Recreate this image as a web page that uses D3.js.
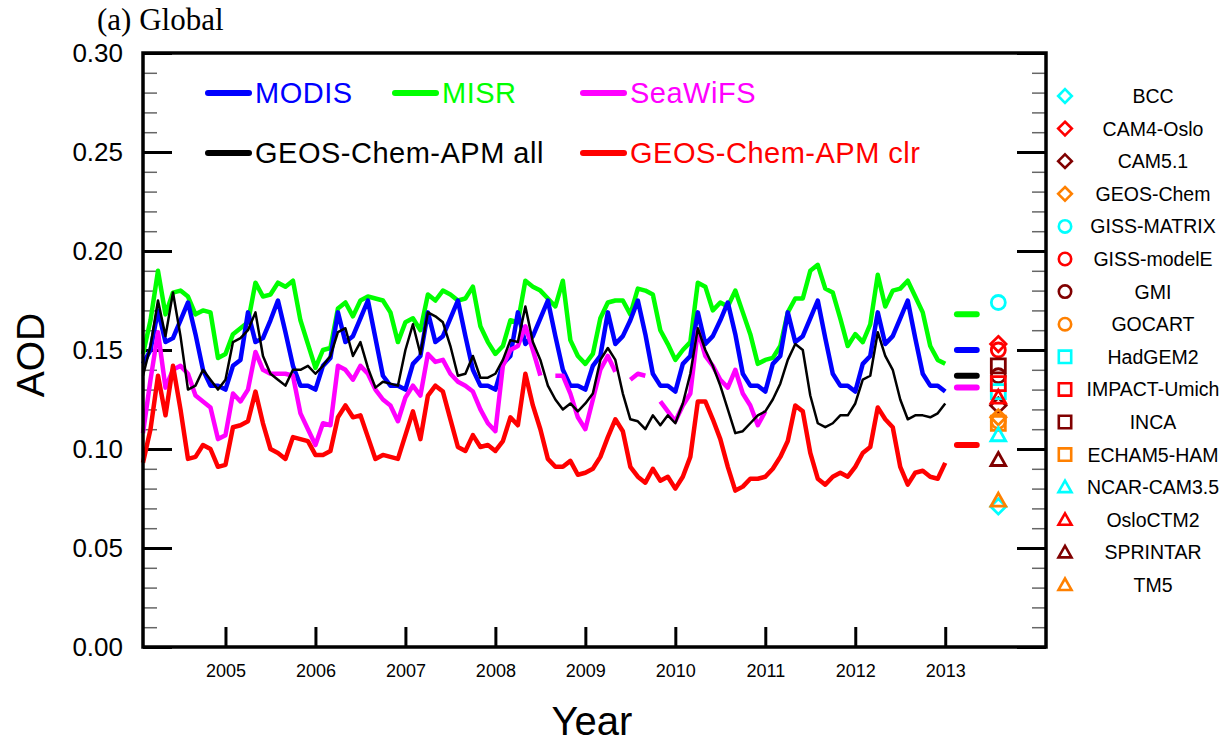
<!DOCTYPE html>
<html>
<head>
<meta charset="utf-8">
<script src="https://cdn.jsdelivr.net/npm/d3@7"></script>
<style>
  body { margin: 0; background: #fff; }
  svg { display: block; font-family: "Liberation Sans", Arial, Helvetica, sans-serif; }
</style>
</head>
<body>
<div id="chart"></div>
<script>
// monthly global AOD, Jan 2004 .. Dec 2012 (null = no data)
const misr = [
  0.148, 0.165, 0.190, 0.168, 0.179, 0.180, 0.177, 0.168, 0.170, 0.169, 0.146, 0.148,
  0.158, 0.161, 0.164, 0.184, 0.177, 0.178, 0.184, 0.182, 0.185, 0.165, 0.153, 0.141,
  0.150, 0.151, 0.171, 0.174, 0.167, 0.175, 0.177, 0.176, 0.175, 0.169, 0.154, 0.164,
  0.166, 0.160, 0.178, 0.175, 0.180, 0.178, 0.175, 0.176, 0.182, 0.162, 0.154, 0.148,
  0.152, 0.165, 0.164, 0.185, 0.182, 0.180, 0.176, 0.172, 0.185, 0.155, 0.147, 0.143,
  0.148, 0.166, 0.174, 0.175, 0.175, 0.168, 0.181, 0.180, 0.178, 0.160, 0.153, 0.145,
  0.150, 0.154, 0.184, 0.182, 0.170, 0.174, 0.172, 0.180, 0.169, 0.158, 0.143, 0.145,
  0.146, 0.152, 0.169, 0.176, 0.176, 0.190, 0.193, 0.181, 0.179, 0.166, 0.152, 0.158,
  0.154, 0.163, 0.188, 0.172, 0.180, 0.181, 0.185, 0.177, 0.169, 0.152, 0.145, 0.143
];
const modis = [
  0.143, 0.150, 0.170, 0.154, 0.156, 0.165, 0.174, 0.158, 0.140, 0.132, 0.132, 0.130,
  0.142, 0.145, 0.169, 0.154, 0.156, 0.165, 0.175, 0.159, 0.142, 0.132, 0.132, 0.130,
  0.142, 0.146, 0.169, 0.154, 0.157, 0.166, 0.175, 0.156, 0.137, 0.132, 0.132, 0.130,
  0.143, 0.147, 0.169, 0.154, 0.157, 0.166, 0.175, 0.157, 0.140, 0.132, 0.132, 0.130,
  0.143, 0.147, 0.169, 0.153, 0.157, 0.166, 0.175, 0.157, 0.140, 0.132, 0.132, 0.130,
  0.142, 0.147, 0.169, 0.153, 0.157, 0.165, 0.175, 0.158, 0.138, 0.132, 0.132, 0.129,
  0.143, 0.147, 0.169, 0.153, 0.157, 0.165, 0.174, 0.158, 0.138, 0.132, 0.132, 0.129,
  0.143, 0.147, 0.169, 0.154, 0.157, 0.166, 0.175, 0.156, 0.138, 0.132, 0.132, 0.129,
  0.143, 0.147, 0.169, 0.153, 0.157, 0.166, 0.175, 0.156, 0.138, 0.132, 0.132, 0.129
];
const seawifs = [
  0.108, 0.135, 0.159, 0.131, 0.140, 0.142, 0.138, 0.127, 0.124, 0.121, 0.105, 0.107,
  0.128, 0.124, 0.130, 0.149, 0.140, 0.138, 0.138, 0.138, 0.137, 0.118, 0.110, 0.102,
  0.113, 0.112, 0.142, 0.140, 0.135, 0.142, 0.138, 0.130, 0.125, 0.122, 0.114, 0.126,
  0.132, 0.127, 0.148, 0.144, 0.145, 0.138, 0.134, 0.132, 0.129, 0.120, 0.113, 0.109,
  0.142, 0.150, 0.152, 0.162, 0.150, 0.137, null,  0.137, 0.137, 0.128, 0.116, 0.110,
  0.125, 0.140, 0.147, 0.139, null,  0.135, 0.138, 0.137, null,  0.124, 0.119, 0.114,
  0.122, 0.128, 0.160, 0.147, 0.142, 0.135, 0.131, 0.140, 0.128, 0.122, 0.112, 0.119,
  null, null, null, null, null, null, null, null, null, null, null, null,
  null, null, null, null, null, null, null, null, null, null, null, null
];
const apmAll = [
  0.137, 0.152, 0.175, 0.157, 0.179, 0.157, 0.130, 0.132, 0.140, 0.135, 0.130, 0.135,
  0.154, 0.156, 0.160, 0.169, 0.147, 0.138, 0.135, 0.132, 0.140, 0.140, 0.142, 0.138,
  0.142, 0.147, 0.159, 0.161, 0.147, 0.154, 0.141, 0.131, 0.134, 0.133, 0.132, 0.150,
  0.163, 0.148, 0.169, 0.167, 0.164, 0.152, 0.137, 0.138, 0.147, 0.136, 0.136, 0.138,
  0.145, 0.155, 0.154, 0.172, 0.154, 0.145, 0.132, 0.125, 0.120, 0.123, 0.119, 0.123,
  0.128, 0.145, 0.151, 0.145, 0.128, 0.115, 0.114, 0.110, 0.117, 0.112, 0.117, 0.113,
  0.123, 0.138, 0.161, 0.150, 0.142, 0.132, 0.120, 0.108, 0.109, 0.113, 0.117, 0.119,
  0.125, 0.133, 0.145, 0.153, 0.150, 0.127, 0.113, 0.111, 0.113, 0.117, 0.117, 0.123,
  0.135, 0.137, 0.159, 0.147, 0.140, 0.125, 0.115, 0.117, 0.117, 0.116, 0.118, 0.123
];
const apmClr = [
  0.093, 0.110, 0.137, 0.117, 0.142, 0.120, 0.095, 0.096, 0.102, 0.100, 0.091, 0.092,
  0.111, 0.112, 0.114, 0.129, 0.113, 0.100, 0.098, 0.095, 0.106, 0.105, 0.104, 0.097,
  0.097, 0.099, 0.116, 0.122, 0.116, 0.117, 0.106, 0.095, 0.097, 0.096, 0.095, 0.107,
  0.119, 0.105, 0.127, 0.132, 0.129, 0.115, 0.101, 0.099, 0.107, 0.101, 0.102, 0.099,
  0.104, 0.116, 0.112, 0.138, 0.122, 0.110, 0.095, 0.091, 0.091, 0.094, 0.087, 0.088,
  0.090, 0.096, 0.106, 0.115, 0.109, 0.091, 0.086, 0.083, 0.090, 0.084, 0.086, 0.080,
  0.086, 0.096, 0.124, 0.124, 0.115, 0.105, 0.091, 0.079, 0.081, 0.085, 0.085, 0.086,
  0.090, 0.096, 0.104, 0.122, 0.119, 0.098, 0.085, 0.082, 0.086, 0.088, 0.086, 0.091,
  0.098, 0.101, 0.121, 0.115, 0.111, 0.091, 0.082, 0.088, 0.089, 0.086, 0.085, 0.093
];

const seriesNames = ["MODIS", "MISR", "SeaWiFS", "GEOS-Chem-APM all", "GEOS-Chem-APM clr"];
const seriesColors = ["#0000ff", "#00ff00", "#ff00ff", "#000000", "#ff0000"];
// period means shown as short bars right of the series
const seriesMeans = [0.150, 0.168, 0.131, 0.137, 0.102];

// AeroCom models
const modelNames = ["BCC", "CAM4-Oslo", "CAM5.1", "GEOS-Chem", "GISS-MATRIX", "GISS-modelE",
  "GMI", "GOCART", "HadGEM2", "IMPACT-Umich", "INCA", "ECHAM5-HAM", "NCAR-CAM3.5",
  "OsloCTM2", "SPRINTAR", "TM5"];
const modelAod = [0.071, 0.153, 0.122, 0.116, 0.174, 0.150, 0.137, 0.114, 0.129, 0.133,
  0.142, 0.113, 0.107, 0.126, 0.0945, 0.074];
const modelShapes = ["diamond", "diamond", "diamond", "diamond", "circle", "circle", "circle", "circle",
  "square", "square", "square", "square", "triangle", "triangle", "triangle", "triangle"];
const modelColors = ["#00ffff", "#ff0000", "#800000", "#ff8000"];

const yearTicks = [2005, 2006, 2007, 2008, 2009, 2010, 2011, 2012, 2013];
const aodTicks = [0, 0.05, 0.10, 0.15, 0.20, 0.25, 0.30];

const W = 1227, H = 742;
const L = 143, R = 1046, T = 53, B = 647;

const svg = d3.select("#chart").append("svg")
  .attr("width", W).attr("height", H);

const x = d3.scaleLinear().domain([2004 + 1 / 12, 2014.12]).range([L, R]);
const y = d3.scaleLinear().domain([0, 0.30]).range([B, T]);
const monthX = i => 2004 + (i + 1) / 12;

const minorTicks = d3.range(0, 31).map(d => d / 100).filter(d => Math.round(d * 100) % 5 !== 0);

// minor y ticks, both sides
svg.append("g").attr("transform", `translate(${L},0)`)
  .call(d3.axisLeft(y).tickValues(minorTicks).tickSize(-14).tickFormat(""))
  .call(g => g.select(".domain").remove())
  .call(g => g.selectAll("line").attr("stroke", "#666").attr("stroke-width", 1.5));
svg.append("g").attr("transform", `translate(${R},0)`)
  .call(d3.axisRight(y).tickValues(minorTicks).tickSize(-14).tickFormat(""))
  .call(g => g.select(".domain").remove())
  .call(g => g.selectAll("line").attr("stroke", "#666").attr("stroke-width", 1.5));

// major y ticks
svg.append("g").attr("transform", `translate(${L},0)`)
  .call(d3.axisLeft(y).tickValues(aodTicks).tickSize(-29).tickPadding(20).tickFormat(d3.format(".2f")))
  .call(g => g.select(".domain").remove())
  .call(g => g.selectAll("line").attr("stroke", "#000").attr("stroke-width", 3))
  .call(g => g.selectAll("text").attr("font-size", 26).attr("fill", "#000")
    .attr("font-family", "Liberation Sans, Arial, sans-serif"));
svg.append("g").attr("transform", `translate(${R},0)`)
  .call(d3.axisRight(y).tickValues(aodTicks).tickSize(-29).tickFormat(""))
  .call(g => g.select(".domain").remove())
  .call(g => g.selectAll("line").attr("stroke", "#000").attr("stroke-width", 3));

// x ticks
svg.append("g").attr("transform", `translate(0,${B})`)
  .call(d3.axisBottom(x).tickValues(yearTicks).tickSize(-20).tickPadding(17).tickFormat(d3.format("d")))
  .call(g => g.select(".domain").remove())
  .call(g => g.selectAll("line").attr("stroke", "#000").attr("stroke-width", 3))
  .call(g => g.selectAll("text").attr("font-size", 18).attr("fill", "#000")
    .attr("font-family", "Liberation Sans, Arial, sans-serif"));

// series
const line = d3.line()
  .defined(d => d != null)
  .x((d, i) => x(monthX(i)))
  .y(d => y(d));

const seriesData = [modis, misr, seawifs, apmAll, apmClr];
const drawOrder = [1, 0, 2, 3, 4];
drawOrder.forEach(k => {
  svg.append("path")
    .datum(seriesData[k])
    .attr("d", line)
    .attr("fill", "none")
    .attr("stroke", seriesColors[k])
    .attr("stroke-width", k === 3 ? 2.5 : 4.5)
    .attr("stroke-linejoin", "round");
});

// mean bars
svg.append("g").selectAll("line")
  .data(seriesMeans)
  .join("line")
  .attr("x1", x(2013.13)).attr("x2", x(2013.35))
  .attr("y1", d => y(d)).attr("y2", d => y(d))
  .attr("stroke", (d, i) => seriesColors[i])
  .attr("stroke-width", 6)
  .attr("stroke-linecap", "round");

function markerPath(shape, r) {
  if (shape === "circle") return d3.symbol(d3.symbolCircle, Math.PI * r * r)();
  if (shape === "square") return `M${-r},${-r}H${r}V${r}H${-r}Z`;
  if (shape === "diamond") return `M0,${-r * 1.1}L${r * 1.1},0L0,${r * 1.1}L${-r * 1.1},0Z`;
  return `M0,${-r * 1.05}L${r * 1.05},${r * 0.8}L${-r * 1.05},${r * 0.8}Z`;
}

// model markers
svg.append("g").selectAll("path")
  .data(modelAod)
  .join("path")
  .attr("transform", d => `translate(${x(2013.59)},${y(d)})`)
  .attr("d", (d, i) => markerPath(modelShapes[i], 7))
  .attr("fill", "none")
  .attr("stroke", (d, i) => modelColors[i % 4])
  .attr("stroke-width", 2.8);

// frame
svg.append("rect")
  .attr("x", L).attr("y", T).attr("width", R - L).attr("height", B - T)
  .attr("fill", "none").attr("stroke", "#000").attr("stroke-width", 3.5);

// top legend
const legendPos = [[208, 93], [395, 93], [583, 93], [208, 153], [583, 153]];
seriesNames.forEach((name, i) => {
  const [lx, ly] = legendPos[i];
  svg.append("line")
    .attr("x1", lx).attr("x2", lx + 41).attr("y1", ly).attr("y2", ly)
    .attr("stroke", seriesColors[i]).attr("stroke-width", 6).attr("stroke-linecap", "round");
  svg.append("text")
    .attr("x", lx + 47).attr("y", ly + 10)
    .attr("font-size", 29).attr("fill", seriesColors[i])
    .attr("letter-spacing", 0.5)
    .text(name);
});

// model legend
const leg = svg.append("g");
modelNames.forEach((name, i) => {
  const ly = 96 + i * 32.6;
  leg.append("path")
    .attr("transform", `translate(1065,${ly})`)
    .attr("d", markerPath(modelShapes[i], 6.2))
    .attr("fill", "none")
    .attr("stroke", modelColors[i % 4])
    .attr("stroke-width", 2.6);
  leg.append("text")
    .attr("x", 1153).attr("y", ly + 7)
    .attr("text-anchor", "middle")
    .attr("font-size", 19.5).attr("fill", "#000")
    .text(name);
});

// titles
svg.append("text")
  .attr("x", 97).attr("y", 30)
  .attr("font-family", "Liberation Serif, Times New Roman, serif")
  .attr("font-size", 31).attr("fill", "#000")
  .text("(a) Global");

svg.append("text")
  .attr("transform", "translate(44,355) rotate(-90)")
  .attr("text-anchor", "middle")
  .attr("font-size", 39).attr("fill", "#000")
  .text("AOD");

svg.append("text")
  .attr("x", 592).attr("y", 735)
  .attr("text-anchor", "middle")
  .attr("font-size", 40).attr("fill", "#000")
  .text("Year");
</script>
</body>
</html>
